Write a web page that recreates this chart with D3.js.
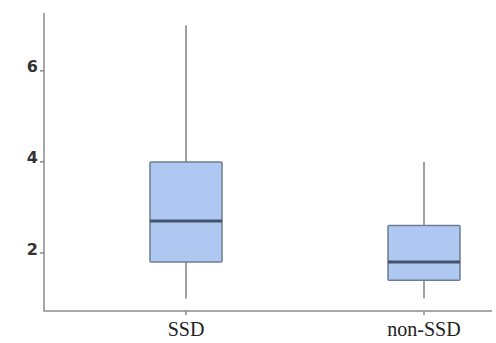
<!DOCTYPE html>
<html><head><meta charset="utf-8">
<script src="https://cdn.jsdelivr.net/npm/d3@7"></script>
<style>body{margin:0;background:#fff}svg{display:block}</style>
</head><body>
<script>
const categories = ["SSD", "non-SSD"];
const mins = [1.0, 1.0];
const q1s = [1.8, 1.4];
const medians = [2.7, 1.8];
const q3s = [4.0, 2.6];
const maxs = [7.0, 4.0];
const yTicks = [2, 4, 6];

const W = 496, H = 343;
const svg = d3.select("body").append("svg").attr("width", W).attr("height", H);

const y = d3.scaleLinear().domain([0, 7.27]).range([344, 13]);
const x = d3.scaleBand().domain(categories).range([67, 543]).padding(0);
const axisLeft = 44, axisBottom = 311, axisRight = 492;

svg.append("line").attr("x1", axisLeft).attr("x2", axisLeft).attr("y1", 13).attr("y2", axisBottom)
  .attr("stroke", "#a8a8a8").attr("stroke-width", 2);
svg.append("line").attr("x1", axisLeft - 1).attr("x2", axisRight).attr("y1", axisBottom).attr("y2", axisBottom)
  .attr("stroke", "#a8a8a8").attr("stroke-width", 2);

const yg = svg.append("g");
yTicks.forEach(t => {
  yg.append("line").attr("x1", axisLeft - 4).attr("x2", axisLeft).attr("y1", y(t)).attr("y2", y(t))
    .attr("stroke", "#888").attr("stroke-width", 1.5);
  yg.append("text").attr("x", axisLeft - 6).attr("y", y(t)).attr("dy", "0.1em")
    .attr("text-anchor", "end").attr("font-family", "DejaVu Sans, sans-serif")
    .attr("font-weight", "bold").attr("font-size", 16).attr("fill", "#333").text(t);
});

const data = categories.map((c, i) => ({c, min: mins[i], q1: q1s[i], med: medians[i], q3: q3s[i], max: maxs[i]}));
const g = svg.append("g");
data.forEach(d => {
  const cx = x(d.c) + x.bandwidth() / 2;
  const bw = 72;
  g.append("line").attr("x1", cx).attr("x2", cx).attr("y1", axisBottom).attr("y2", axisBottom + 4)
    .attr("stroke", "#888").attr("stroke-width", 1.5);
  g.append("line").attr("x1", cx).attr("x2", cx).attr("y1", y(d.max)).attr("y2", y(d.q3))
    .attr("stroke", "#a0a0a0").attr("stroke-width", 2);
  g.append("line").attr("x1", cx).attr("x2", cx).attr("y1", y(d.q1)).attr("y2", y(d.min))
    .attr("stroke", "#a0a0a0").attr("stroke-width", 2);
  g.append("rect").attr("x", cx - bw / 2).attr("width", bw).attr("y", y(d.q3)).attr("height", y(d.q1) - y(d.q3))
    .attr("fill", "#afc8f2").attr("stroke", "#6e7d93").attr("stroke-width", 1.5).attr("rx", 1);
  g.append("line").attr("x1", cx - bw / 2).attr("x2", cx + bw / 2).attr("y1", y(d.med)).attr("y2", y(d.med))
    .attr("stroke", "#45536a").attr("stroke-width", 3);
  g.append("text").attr("x", cx).attr("y", 336).attr("text-anchor", "middle")
    .attr("font-family", "Liberation Serif, Times New Roman, serif").attr("font-size", 20)
    .attr("fill", "#222").text(d.c);
});
</script>
</body></html>
